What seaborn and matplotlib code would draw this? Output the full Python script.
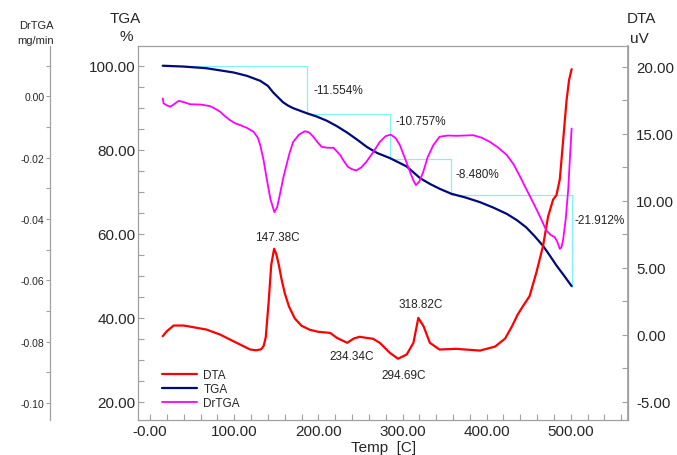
import matplotlib
matplotlib.use("Agg")
import matplotlib.pyplot as plt
import seaborn as sns
import pandas as pd
from matplotlib.ticker import MultipleLocator, FixedLocator, FixedFormatter, FormatStrFormatter

# ---------------- data ----------------
tga_T = [15, 40, 67, 99, 115, 131, 140, 146, 152, 158, 164, 170, 178, 186, 198, 210, 222,
         234, 246, 258, 270, 285, 295, 305, 313, 321, 333, 344, 358, 375, 392, 408, 424,
         436, 447, 457, 467, 475, 483, 492, 501]
tga_v = [100.0, 99.8, 99.4, 98.4, 97.6, 96.4, 95.2, 93.7, 92.5, 91.3, 90.5, 89.9, 89.3, 88.7,
         87.9, 86.9, 85.6, 84.1, 82.4, 80.6, 79.2, 78.0, 77.0, 76.0, 74.6, 73.2, 71.8, 70.7,
         69.5, 68.6, 67.5, 66.2, 64.7, 63.2, 61.5, 59.4, 57.1, 54.8, 52.4, 50.0, 47.5]

dta_T = [15, 20, 28, 40, 67, 83, 107, 119, 126, 132, 135, 137.5, 141, 144, 147.4, 150, 153,
         156, 160, 165, 172, 180, 190, 200, 214, 222, 234.3, 242, 249, 257, 265, 273, 285,
         294.7, 305, 313, 318.8, 325, 332.5, 344, 364, 392, 410, 422, 430, 437, 443, 451,
         459, 467, 473, 479, 483, 487, 491, 495, 498, 501]
dta_v = [-0.13, 0.25, 0.67, 0.67, 0.37, 0.0, -0.75, -1.12, -1.18, -1.1, -0.85, -0.2, 2.5, 5.2,
         6.4, 6.0, 5.2, 4.2, 3.1, 2.1, 1.2, 0.65, 0.35, 0.2, 0.12, -0.25, -0.62, -0.3, -0.17,
         -0.25, -0.32, -0.62, -1.37, -1.81, -1.49, -0.62, 1.24, 0.62, -0.62, -1.12, -1.07,
         -1.2, -0.9, -0.3, 0.6, 1.5, 2.1, 2.86, 4.6, 6.6, 8.8, 10.07, 10.4, 11.6, 14.55, 17.5,
         19.0, 19.8]

dr_T = [15, 16, 20, 24, 29, 34, 40, 47.5, 60, 71, 77, 83, 89, 95, 101, 107, 115, 123, 128,
        131, 135, 138.6, 143, 147.7, 151, 154, 158, 162, 166, 170, 177, 184, 189, 194, 199,
        204, 211, 218, 222, 226, 230, 235, 240, 245, 251, 257, 265, 273, 280, 286, 292, 297,
        303, 309, 313, 316, 320, 324.6, 330, 336.5, 344, 354, 364, 374, 384, 394, 404, 414,
        424, 432, 439, 447, 455, 463, 471, 476, 481, 484, 487, 489, 491, 494, 497, 499, 501]
dr_v = [-0.0007, -0.0023, -0.003, -0.0034, -0.0025, -0.0015, -0.0019, -0.0026, -0.0027,
        -0.0032, -0.004, -0.005, -0.0065, -0.0078, -0.0088, -0.0094, -0.0103, -0.0116,
        -0.0135, -0.016, -0.021, -0.0269, -0.0335, -0.0378, -0.0362, -0.0324, -0.027,
        -0.0225, -0.0183, -0.0149, -0.0125, -0.0114, -0.0118, -0.0132, -0.015, -0.0165,
        -0.0168, -0.0168, -0.018, -0.0192, -0.021, -0.023, -0.0238, -0.0242, -0.0232,
        -0.0214, -0.0183, -0.0149, -0.013, -0.0125, -0.0137, -0.016, -0.0203, -0.0247,
        -0.0275, -0.029, -0.0278, -0.0247, -0.0198, -0.016, -0.0132, -0.0128, -0.0129,
        -0.0128, -0.0127, -0.0135, -0.0149, -0.0168, -0.0192, -0.0222, -0.0258, -0.0302,
        -0.0345, -0.039, -0.0438, -0.0452, -0.046, -0.0475, -0.0498, -0.0492, -0.0466,
        -0.040, -0.0302, -0.020, -0.0105]

# step (mass-loss) markers
step_T = [15, 186, 186, 285, 285, 358, 358, 501, 501]
step_v = [100.0, 100.0, 88.446, 88.446, 77.689, 77.689, 69.209, 69.209, 47.297]
loss_labels = ["-11.554%", "-10.757%", "-8.480%", "-21.912%"]
loss_T = [194, 292, 363, 505]
loss_v = [94.1, 86.8, 74.2, 63.2]

peak_labels = ["147.38C", "234.34C", "294.69C", "318.82C"]
peak_T = [151, 239.5, 301, 322]
peak_v = [7.3, -1.62, -2.99, 2.24]

x_ticks = [0, 100, 200, 300, 400, 500]
x_ticklabels = ["-0.00", "100.00", "200.00", "300.00", "400.00", "500.00"]
dr_ticks = [0.0, -0.02, -0.04, -0.06, -0.08, -0.10]
dr_ticklabels = ["0.00", "-0.02", "-0.04", "-0.06", "-0.08", "-0.10"]

# ---------------- style ----------------
sns.set_theme(style="white")
plt.rcParams["font.family"] = ["Liberation Sans", "DejaVu Sans"]

GRAY = "#a0a0a0"
C_DTA = "#ff0000"
C_TGA = "#000a78"
C_DR = "#ff00ff"
C_STEP = "#80f4f4"

W, H = 677, 456
fig = plt.figure(figsize=(W / 100, H / 100), dpi=100)
L, R, T, B = 138.3, 628.0, 47.0, 421.0
ax = fig.add_axes([L / W, 1 - B / H, (R - L) / W, (B - T) / H])
ax_dta = ax.twinx()
ax_dr = ax.twinx()

df_tga = pd.DataFrame({"T": tga_T, "v": tga_v})
df_dta = pd.DataFrame({"T": dta_T, "v": dta_v})
df_dr = pd.DataFrame({"T": dr_T, "v": dr_v})
df_step = pd.DataFrame({"T": step_T, "v": step_v})

sns.lineplot(data=df_step, x="T", y="v", ax=ax, color=C_STEP, lw=0.9, sort=False,
             estimator=None)
sns.lineplot(data=df_tga, x="T", y="v", ax=ax, color=C_TGA, lw=1.6, label="TGA",
             estimator=None)
sns.lineplot(data=df_dta, x="T", y="v", ax=ax_dta, color=C_DTA, lw=1.6, label="DTA",
             estimator=None)
sns.lineplot(data=df_dr, x="T", y="v", ax=ax_dr, color=C_DR, lw=1.3, label="DrTGA",
             estimator=None)

for a in (ax, ax_dta, ax_dr):
    leg = a.get_legend()
    if leg is not None:
        leg.remove()
    a.set_xlabel("")
    a.set_ylabel("")

ax.set_xlim(-14, 568)
ax.set_ylim(15.6, 104.7)
ax_dta.set_ylim(-6.38, 21.53)
ax_dr.set_ylim(-0.1056, 0.0164)

# main axes spines
for s in ax.spines.values():
    s.set_color(GRAY)
    s.set_linewidth(0.9)
for s in ax_dta.spines.values():
    s.set_visible(False)
ax_dta.spines["right"].set_visible(True)
ax_dta.spines["right"].set_color(GRAY)
for s in ax_dr.spines.values():
    s.set_visible(False)
ax_dr.spines["left"].set_visible(True)
ax_dr.spines["left"].set_color(GRAY)
ax_dr.spines["left"].set_linewidth(0.9)
ax_dr.spines["left"].set_position(("axes", (50 - L) / (R - L)))
ax_dr.yaxis.set_ticks_position("left")
ax_dr.yaxis.set_label_position("left")

# x axis
ax.xaxis.set_major_locator(FixedLocator(x_ticks))
ax.xaxis.set_major_formatter(FixedFormatter(x_ticklabels))
ax.xaxis.set_minor_locator(MultipleLocator(20))
ax.tick_params(axis="x", which="both", direction="in", length=4, width=0.8, color=GRAY,
               labelsize=11, pad=3, top=False, bottom=True)
ax.set_xlabel("Temp  [C]", fontsize=11, labelpad=1)

# TGA axis (left)
ax.yaxis.set_major_locator(MultipleLocator(20))
ax.yaxis.set_minor_locator(MultipleLocator(5))
ax.yaxis.set_major_formatter(FormatStrFormatter("%.2f"))
ax.tick_params(axis="y", which="both", direction="in", length=4, width=0.8, color=GRAY,
               labelsize=11, pad=2, left=True, right=False)

# DTA axis (right)
ax_dta.yaxis.set_major_locator(MultipleLocator(5))
ax_dta.yaxis.set_minor_locator(MultipleLocator(2.5))
ax_dta.yaxis.set_major_formatter(FormatStrFormatter("%.2f"))
ax_dta.tick_params(axis="y", which="both", direction="in", length=4, width=0.8, color=GRAY,
                   labelsize=10.8, pad=6, right=True, left=False)

# DrTGA axis (far left)
ax_dr.yaxis.set_major_locator(FixedLocator(dr_ticks))
ax_dr.yaxis.set_major_formatter(FixedFormatter(dr_ticklabels))
ax_dr.yaxis.set_minor_locator(MultipleLocator(0.01))
ax_dr.tick_params(axis="y", which="both", direction="out", length=3, width=0.8, color=GRAY,
                  labelsize=7.5, pad=1, left=True, right=False, labelleft=True,
                  labelright=False)

# annotations
for lab, tx, ty in zip(loss_labels, loss_T, loss_v):
    ax.text(tx, ty, lab, fontsize=8.5, ha="left", va="center", color="#222222")
for lab, tx, ty in zip(peak_labels, peak_T, peak_v):
    ax_dta.text(tx, ty, lab, fontsize=8.5, ha="center", va="center", color="#222222")

# axis titles
fig.text(125 / W, 1 - 19 / H, "TGA", fontsize=11, ha="center", va="center")
fig.text(126 / W, 1 - 37 / H, "%", fontsize=11, ha="center", va="center")
fig.text(641 / W, 1 - 19 / H, "DTA", fontsize=11, ha="center", va="center")
fig.text(639 / W, 1 - 39 / H, "uV", fontsize=11, ha="center", va="center")
fig.text(36 / W, 1 - 26 / H, "DrTGA", fontsize=8, ha="center", va="center")
fig.text(36 / W, 1 - 41 / H, "mg/min", fontsize=8, ha="center", va="center")

# legend
handles = [ax_dta.lines[0], ax.lines[1], ax_dr.lines[0]]
ax_dr.legend(handles, ["DTA", "TGA", "DrTGA"], loc="lower left",
             bbox_to_anchor=((162 - L) / (R - L), (B - 410) / (B - T)),
             frameon=False, fontsize=8.5, handlelength=3.0, handletextpad=0.5,
             labelspacing=0.15, borderpad=0, borderaxespad=0)

fig.savefig("out.png", dpi=100)
